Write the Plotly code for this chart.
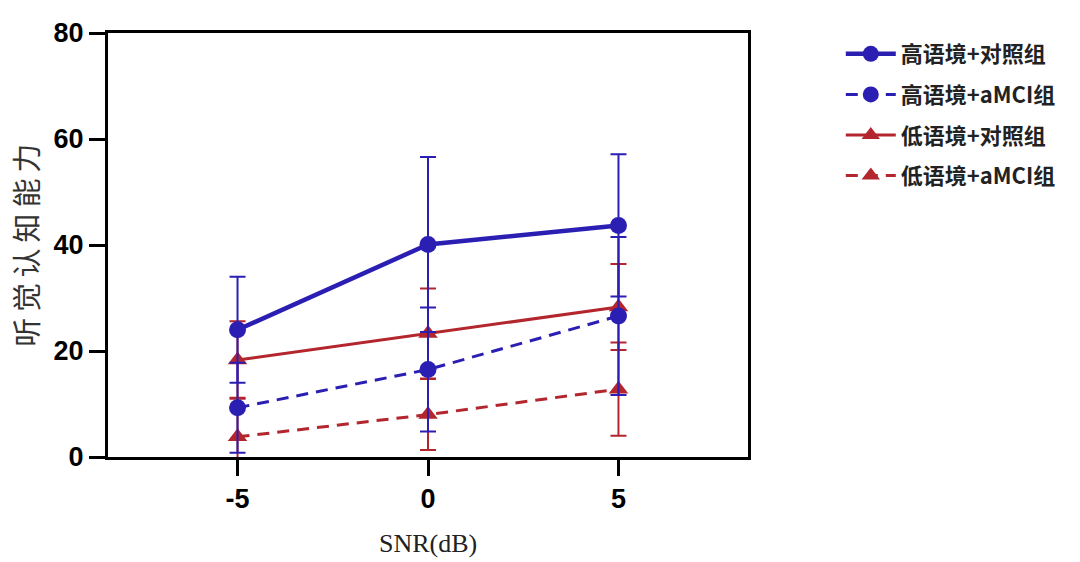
import plotly.graph_objects as go

snr = [-5, 0, 5]
tick_text = ["-5", "0", "5"]
y_ticks = [0, 20, 40, 60, 80]

names = ["高语境+对照组", "高语境+aMCI组", "低语境+对照组", "低语境+aMCI组"]
high_ctrl = [24.0, 40.1, 43.7]
high_ctrl_err = [10.0, 16.5, 13.4]
high_mci = [9.3, 16.5, 26.6]
high_mci_err = [8.5, 11.7, 14.9]
low_ctrl = [18.3, 23.3, 28.3]
low_ctrl_err = [7.3, 8.5, 8.1]
low_mci = [3.8, 8.0, 12.8]
low_mci_err = [7.4, 6.7, 8.8]

BLUE = "#2b1fb3"
RED = "#b3262e"

fig = go.Figure()

def add(y, err, name, color, symbol, dash, lw, rank):
    fig.add_trace(go.Scatter(
        x=snr, y=y, name=name, mode="lines+markers",
        line=dict(color=color, width=lw, dash=dash),
        marker=dict(color=color, size=17, symbol=symbol),
        error_y=dict(type="data", array=err, visible=True, color=color,
                     thickness=2, width=8),
        legendgroup=name, legendrank=rank, cliponaxis=False,
    ))

add(low_mci, low_mci_err, names[3], RED, "triangle-up", "12px,8px", 3, 4)
add(low_ctrl, low_ctrl_err, names[2], RED, "triangle-up", "solid", 3, 3)
add(high_mci, high_mci_err, names[1], BLUE, "circle", "12px,8px", 3, 2)
add(high_ctrl, high_ctrl_err, names[0], BLUE, "circle", "solid", 4.5, 1)

axis_common = dict(
    showline=True, linecolor="black", linewidth=3, mirror=True,
    ticks="outside", ticklen=16, tickwidth=3, tickcolor="black",
    showgrid=False, zeroline=False,
    tickfont=dict(family="Liberation Sans", size=27, color="black", weight="bold"),
)

fig.update_layout(
    width=1080, height=562,
    margin=dict(l=108, r=332, t=33, b=105),
    paper_bgcolor="white", plot_bgcolor="white",
    xaxis=dict(range=[-8.4, 8.4], tickvals=snr, ticktext=tick_text, **axis_common),
    yaxis=dict(range=[0, 80], tickvals=y_ticks, **axis_common),
    legend=dict(
        x=1.145, y=1.0, xanchor="left", yanchor="top",
        traceorder="grouped", tracegroupgap=9,
        font=dict(family="Noto Sans CJK SC", size=22, color="#222", weight="bold"),
        itemwidth=50,
    ),
    showlegend=True,
)

fig.add_annotation(
    text="听\u2009觉\u2009认\u2009知\u2009能\u2009力", xref="paper", yref="paper",
    x=-0.13, y=0.5, xanchor="center", yanchor="middle", textangle=-90,
    showarrow=False, font=dict(family="Noto Sans CJK SC", size=29, color="#333"),
)
fig.add_annotation(
    text="SNR(dB)", xref="paper", yref="paper",
    x=0.5, y=-0.205, xanchor="center", yanchor="middle",
    showarrow=False, font=dict(family="Liberation Serif", size=26, color="#222"),
)

fig.write_html("out.html")
